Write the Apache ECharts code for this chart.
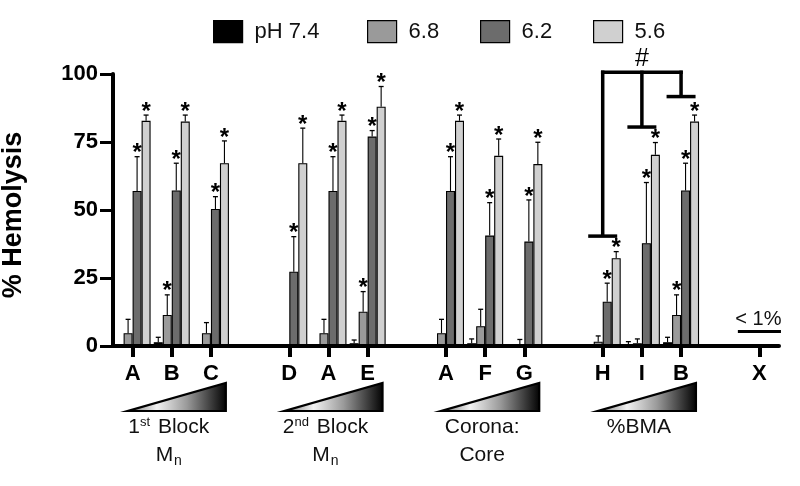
<!DOCTYPE html>
<html>
<head>
<meta charset="utf-8">
<script src="https://cdn.jsdelivr.net/npm/echarts@6/dist/echarts.min.js"></script>
<style>html,body{margin:0;padding:0;background:#fff;}#chart{width:800px;height:486px;}</style>
</head>
<body>
<div id="chart"></div>
<script>
// ---------- data ----------
const categories = ['A','B','C','','D','A','E','','A','F','G','','H','I','B','','X'];
const seriesNames = ['pH 7.4','6.8','6.2','5.6'];

const ph74   = [0,   1.4, 0,   null, 0.2, 0,   1.0, null, 0,   1.0, 0,   null, 0,   0.2, 1.4, null, 0.2];
const ph74Sd = [0,   1.8, 0,   null, 0,   0,   1.2, null, 0,   1.6, 0,   null, 0,   1.4, 1.8, null, 0];
const ph68   = [4.7, 11.4, 4.7, null, 0.3, 4.7, 12.6, null, 4.7, 7.3, 0.3, null, 1.6, 1.0, 11.4, null, 0.2];
const ph68Sd = [5.1, 7.4, 3.9, null, 0,   5.1, 7.4, null, 5.1, 6.2, 2.1, null, 2.1, 1.6, 7.4, null, 0];
const ph62   = [57.0, 57.2, 50.4, null, 27.3, 57.0, 77.0, null, 57.0, 40.6, 38.4, null, 16.3, 37.8, 57.2, null, 0.2];
const ph62Sd = [12.6, 10.0, 4.5, null, 12.9, 12.6, 2.2, null, 12.6, 12.1, 15.3, null, 6.8, 22.3, 10.0, null, 0];
const ph56   = [82.8, 82.5, 67.2, null, 67.2, 82.8, 88.0, null, 82.8, 69.9, 66.9, null, 32.3, 70.3, 82.5, null, 0.2];
const ph56Sd = [2.1, 2.4, 8.2, null, 12.9, 2.1, 7.4, null, 2.1, 6.2, 8.0, null, 2.4, 4.5, 2.4, null, 0];

const sig74 = [0,0,0,0,0,0,0,0,0,0,0,0,0,0,0,0,0];
const sig68 = [0,1,0,0,0,0,1,0,0,0,0,0,0,0,1,0,0];
const sig62 = [1,1,1,0,1,1,1,0,1,1,1,0,1,1,1,0,0];
const sig56 = [1,1,1,0,1,1,1,0,1,1,1,0,1,1,1,0,0];

const yTicks = [0, 25, 50, 75, 100];

// group annotations (category index ranges)
const groupRanges = [[0,2],[4,6],[8,10],[12,14]];
const groupLabels = ['1{sup|st} Block\nM{sub|n}', '2{sup|nd} Block\nM{sub|n}', 'Corona:\nCore', '%BMA'];

// "#" comparison bracket: categories H, I, B and their cap levels
const bracketCats = [12, 13, 14];
const bracketCaps = [40.4, 80.5, 91.7];
const bracketTop = 100.6;
const bracketLabel = '#';

// note on X
const noteCat = 16;
const noteLevel = 5.3;
const noteLabel = '< 1%';

// ---------- styles ----------
const FONT = 'Liberation Sans, Arial, Helvetica, sans-serif';
const colors = ['#000000', '#9a9a9a', '#6c6c6c', '#d0d0d0'];
const BAR_W = 9;

const means = [ph74, ph68, ph62, ph56];
const sds = [ph74Sd, ph68Sd, ph62Sd, ph56Sd];
const sigs = [sig74, sig68, sig62, sig56];

const chart = echarts.init(document.getElementById('chart'), null, {renderer: 'canvas'});

const barSeries = seriesNames.map((n, i) => ({
  name: n,
  type: 'bar',
  data: means[i],
  barWidth: BAR_W,
  barGap: '0%',
  itemStyle: {color: colors[i], borderColor: '#000', borderWidth: 1.1},
  z: 2,
  animation: false
}));

const errSeries = seriesNames.map((n, i) => ({
  name: n,
  type: 'custom',
  z: 3,
  animation: false,
  silent: true,
  data: categories.map((c, k) => means[i][k] == null ? null : [k, means[i][k], sds[i][k], sigs[i][k]]).filter(d => d),
  renderItem: function (params, api) {
    const x = api.value(0), m = api.value(1), sd = api.value(2), sig = api.value(3);
    const base = api.coord([x, m]);
    const top = api.coord([x, m + sd]);
    const cx = base[0] + (i - 1.5) * BAR_W;
    const children = [];
    if (sd > 0) {
      children.push({type: 'line', shape: {x1: cx, y1: base[1], x2: cx, y2: top[1]}, style: {stroke: '#000', lineWidth: 1.1}});
      children.push({type: 'line', shape: {x1: cx - 2.5, y1: top[1], x2: cx + 2.5, y2: top[1]}, style: {stroke: '#000', lineWidth: 1.3}});
    }
    if (sig) {
      children.push({type: 'text', x: cx, y: top[1] - 3, style: {text: '*', fontSize: 24, fontWeight: 'bold', fontFamily: FONT, fill: '#000', align: 'center', verticalAlign: 'middle'}});
    }
    return {type: 'group', children: children};
  }
}));

const groupSeries = {
  type: 'custom',
  name: 'groups',
  z: 4,
  silent: true,
  animation: false,
  data: groupRanges.map((g, k) => [g[0], g[1], k]),
  renderItem: function (params, api) {
    const a = api.value(0), b = api.value(1), k = api.value(2);
    const band = api.size([1, 0])[0];
    const pa = api.coord([a, 0]);
    const pb = api.coord([b, 0]);
    const pm = api.coord([(a + b) / 2, 0]);
    const x0 = pa[0] - 0.12 * band, x1 = pb[0] + 0.38 * band;
    const yb = pa[1] + 65, yt = pa[1] + 37;
    return {type: 'group', children: [
      {type: 'polygon', shape: {points: [[x0, yb], [x1, yb], [x1, yt]]},
       style: {fill: {type: 'linear', x: 0, y: 0, x2: 1, y2: 0, colorStops: [
         {offset: 0, color: '#777'}, {offset: 0.3, color: '#f2f2f2'}, {offset: 0.6, color: '#9a9a9a'}, {offset: 1, color: '#000'}]},
         stroke: '#000', lineWidth: 2.2, lineJoin: 'miter'}},
      {type: 'text', x: pm[0] - 3, y: pa[1] + 67, style: {
        text: groupLabels[k], fontSize: 21, fontFamily: FONT, fill: '#111', align: 'center', verticalAlign: 'top', lineHeight: 28,
        rich: {
          sup: {fontSize: 13, fontFamily: FONT, fill: '#111', lineHeight: 14, padding: [0, 2, 10, 0]},
          sub: {fontSize: 14, fontFamily: FONT, fill: '#111', lineHeight: 14, padding: [12, 0, 0, 1]}
        }
      }}
    ]};
  }
};

const bracketSeries = {
  type: 'custom',
  name: 'bracket',
  z: 4,
  silent: true,
  animation: false,
  data: bracketCats.map((c, k) => [c, bracketCaps[k], k]),
  renderItem: function (params, api) {
    const c = api.value(0), lv = api.value(1), k = api.value(2);
    const band = api.size([1, 0])[0];
    const p = api.coord([c, lv]);
    const t = api.coord([c, bracketTop]);
    const hw = 0.37 * band;
    const st = {stroke: '#000', lineWidth: 3.5, lineCap: 'butt'};
    const children = [
      {type: 'line', shape: {x1: p[0] - hw, y1: p[1], x2: p[0] + hw, y2: p[1]}, style: st},
      {type: 'line', shape: {x1: p[0], y1: p[1], x2: p[0], y2: t[1] - 1.75}, style: st}
    ];
    if (k === 0) {
      const t2 = api.coord([bracketCats[bracketCats.length - 1], bracketTop]);
      const tm = api.coord([bracketCats[1], bracketTop]);
      children.push({type: 'line', shape: {x1: t[0] - 1.75, y1: t[1], x2: t2[0] + 1.75, y2: t2[1]}, style: st});
      children.push({type: 'text', x: tm[0], y: tm[1] - 13, style: {text: bracketLabel, fontSize: 25, fontFamily: FONT, fill: '#000', align: 'center', verticalAlign: 'middle'}});
    }
    return {type: 'group', children: children};
  }
};

const noteSeries = {
  type: 'custom',
  name: 'note',
  z: 4,
  silent: true,
  animation: false,
  data: [[noteCat, noteLevel]],
  renderItem: function (params, api) {
    const band = api.size([1, 0])[0];
    const p = api.coord([api.value(0), api.value(1)]);
    return {type: 'group', children: [
      {type: 'line', shape: {x1: p[0] - 0.55 * band, y1: p[1], x2: p[0] + 0.55 * band, y2: p[1]}, style: {stroke: '#000', lineWidth: 3}},
      {type: 'text', x: p[0] - 1, y: p[1] - 12, style: {text: noteLabel, fontSize: 20, fontFamily: FONT, fill: '#111', align: 'center', verticalAlign: 'middle'}}
    ]};
  }
};

const legendLeft = [208, 362, 475, 588];

const option = {
  backgroundColor: '#fff',
  animation: false,
  legend: seriesNames.map((n, i) => ({
    data: [n],
    left: legendLeft[i],
    top: 15,
    icon: 'rect',
    itemWidth: 29,
    itemHeight: 22,
    itemGap: 0,
    selectedMode: false,
    itemStyle: {borderColor: '#000', borderWidth: 1.2},
    textStyle: {fontSize: 22, fontFamily: FONT, color: '#111', padding: [0, 0, 0, 7]}
  })),
  grid: {left: 113, right: 21, top: 74, bottom: 140, containLabel: false, outerBoundsMode: 'none'},
  xAxis: {
    type: 'category',
    data: categories,
    z: 10,
    axisLine: {show: true, lineStyle: {color: '#000', width: 4}},
    axisTick: {show: true, alignWithLabel: true, length: 11, interval: (idx) => categories[idx] !== '', lineStyle: {color: '#000', width: 4}},
    axisLabel: {interval: 0, margin: 17, fontSize: 22, fontWeight: 'bold', fontFamily: FONT, color: '#000'},
    splitLine: {show: false}
  },
  yAxis: {
    type: 'value',
    min: yTicks[0],
    max: yTicks[yTicks.length - 1],
    interval: yTicks[1] - yTicks[0],
    z: 10,
    name: '% Hemolysis',
    nameLocation: 'middle',
    nameGap: 86,
    nameRotate: 90,
    nameTextStyle: {fontSize: 27, fontWeight: 'bold', fontFamily: FONT, color: '#000', padding: [0, 10, 0, 0]},
    axisLine: {show: true, lineStyle: {color: '#000', width: 4}},
    axisTick: {show: true, inside: false, length: 13, lineStyle: {color: '#000', width: 3}},
    axisLabel: {margin: 15, fontSize: 22, fontWeight: 'bold', fontFamily: FONT, color: '#000'},
    splitLine: {show: false}
  },
  series: [].concat(barSeries, errSeries, [groupSeries, bracketSeries, noteSeries])
};

chart.setOption(option);
</script>
</body>
</html>
